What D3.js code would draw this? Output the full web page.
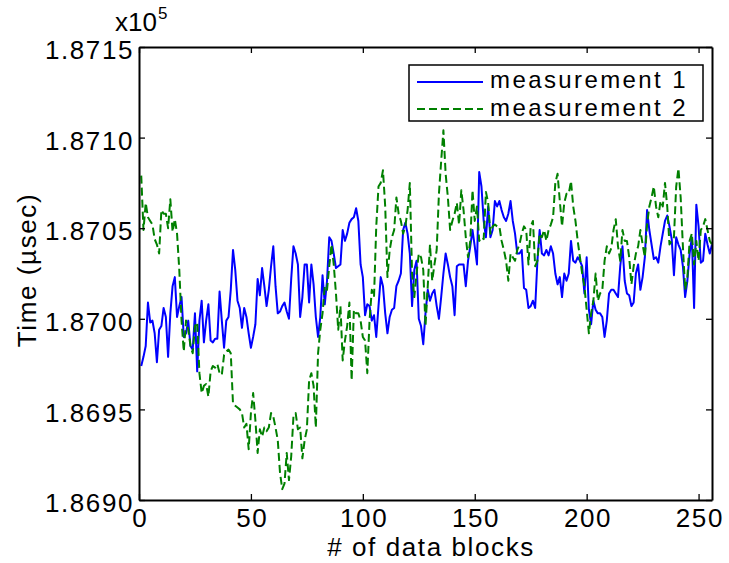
<!DOCTYPE html>
<html><head><meta charset="utf-8">
<script src="https://cdn.jsdelivr.net/npm/d3@7"></script>
<style>
body{margin:0;background:#fff}
svg text{font-family:"Liberation Sans",Arial,Helvetica,sans-serif;fill:#000}
</style></head><body>
<svg id="chart" width="729" height="563"></svg>
<script>
// block index 1..256, time in microseconds
const measurement1 = [
186974,186979,186985,187009,186998,186999,186992,186976,186994,186996,187006,187001,186979,187003,187018,187023,187001,187007,187012,186990,186992,186999,186985,186983,187003,186971,186999,187010,186987,186999,187008,186988,186987,186989,186989,187015,186999,186984,186999,187001,187016,187038,
187027,187010,187006,186995,187006,187001,186992,186984,186990,186997,187022,187013,187028,187018,187007,187016,187029,187040,187018,187003,187004,187007,187009,187004,187000,187022,187040,187036,187030,187001,187012,187030,187030,187009,187030,187019,187001,186990,187001,187024,187008,187021,
187045,187043,187036,187028,187029,187030,187049,187043,187047,187053,187055,187056,187061,187054,187030,187023,187002,187008,187007,186999,187002,186990,187007,187023,187018,187003,186992,187001,187005,187006,187018,187021,187025,187049,187053,187047,187036,187007,187027,187032,187000,186996,
186986,187003,187016,187010,187014,187016,187007,187000,187012,187025,187036,187030,187023,187018,187002,187029,187030,187030,187030,187018,187032,187040,187049,187040,187030,187081,187073,187054,187045,187062,187045,187049,187065,187062,187065,187060,187056,187054,187058,187065,187054,187047,
187036,187036,187038,187017,187016,187006,187007,187010,187006,187032,187049,187036,187035,187038,187035,187040,187036,187025,187019,187023,187012,187025,187021,187025,187043,187032,187031,187034,187032,187029,187014,187034,187005,186997,187010,187005,187003,187003,187001,186990,186999,187014,
187016,187016,187014,187012,187029,187040,187021,187014,187013,187007,187009,187025,187030,187016,187023,187034,187060,187049,187041,187033,187034,187031,187040,187047,187054,187057,187051,187044,187024,187045,187041,187038,187029,187012,187021,187036,187045,187006,187063,187051,187031,187032,187047,187041,187036,187041
];
const measurement2 = [
187079,187049,187064,187056,187054,187052,187044,187041,187036,187060,187058,187058,187050,187066,187048,187055,187047,187027,186999,186982,186999,186994,186985,186981,186996,186998,186970,186959,186963,186964,186957,186971,186974,186973,186975,186970,186969,186980,186982,186983,186981,186953,
186952,186951,186950,186948,186940,186942,186928,186948,186959,186944,186926,186939,186935,186940,186938,186940,186948,186946,186940,186933,186915,186906,186909,186926,186911,186924,186946,186948,186939,186940,186923,186933,186939,186966,186970,186963,186940,186981,186994,187003,187018,187016,
187029,187041,187030,187014,186994,187007,186977,186988,186996,187009,186966,187005,187003,187003,186999,186990,186988,186970,186999,187016,187012,187051,187073,187075,187082,187062,187023,187038,187045,187049,187067,187058,187054,187047,187051,187060,187075,187025,187012,187025,187036,187034,
187027,186996,187018,187041,187021,187030,187038,187069,187087,187104,187080,187067,187049,187054,187058,187064,187052,187071,187060,187045,187034,187043,187071,187054,187062,187043,187045,187044,187070,187064,187047,187051,187052,187051,187051,187043,187038,187032,187021,187036,187034,187032,
187038,187041,187047,187051,187049,187030,187051,187054,187029,187032,187047,187045,187049,187043,187049,187052,187056,187075,187080,187065,187051,187064,187069,187069,187076,187062,187054,187043,187034,187025,187018,187005,186992,187003,187010,187025,187010,187014,187016,187032,187040,187036,
187039,187049,187055,187040,187032,187049,187043,187043,187034,187019,187029,187036,187040,187049,187041,187034,187052,187062,187067,187073,187062,187056,187065,187062,187075,187062,187041,187043,187045,187073,187083,187067,187040,187016,187023,187043,187047,187030,187043,187032,187049,187051,187055,187049,187043,187041
];
const blocks = measurement1.map((_, i) => i + 1);
const seriesNames = ["measurement 1", "measurement 2"];
const seriesColors = ["#0000ff", "#008000"];
const xTicks = [0, 50, 100, 150, 200, 250];
const yTicks = [186900, 186950, 187000, 187050, 187100, 187150];
const xDomain = [0, 256];
const yDomain = [186900, 187150];
const exponentLabel = "x10";
const exponent = "5";
const xTitle = "# of data blocks";
const yTitle = "Time (\u00b5sec)";

const FONT = '"Liberation Sans",Arial,Helvetica,sans-serif';
const FS = 26, LS = "1.6px";
const svg = d3.select("#chart");
const L = 139, R = 712, T = 47, B = 500;
const x = d3.scaleLinear().domain(xDomain).range([L, R]);
const y = d3.scaleLinear().domain(yDomain).range([B, T]);

svg.append("rect").attr("x",0).attr("y",0).attr("width",729).attr("height",563).attr("fill","#fff");

const line = d3.line().x((d,i) => x(blocks[i])).y(d => y(d));
svg.append("path").datum(measurement1).attr("d", line)
  .attr("fill","none").attr("stroke",seriesColors[0]).attr("stroke-width",2).attr("stroke-linejoin","round");
svg.append("path").datum(measurement2).attr("d", line)
  .attr("fill","none").attr("stroke",seriesColors[1]).attr("stroke-width",2).attr("stroke-dasharray","8,4").attr("stroke-linejoin","round");

function styleAxis(g){
  g.selectAll(".domain").attr("stroke","#000").attr("stroke-width",2);
  g.selectAll(".tick line").attr("stroke","#000").attr("stroke-width",1.3);
  g.selectAll(".tick text").attr("font-size",FS).attr("fill","#000")
    .attr("font-family",FONT).style("font-family",FONT).style("letter-spacing",LS);
}
const fmt = d => (d/1e5).toFixed(4);
const gB = svg.append("g").attr("transform",`translate(0,${B})`)
  .call(d3.axisBottom(x).tickValues(xTicks).tickSizeInner(-6).tickSizeOuter(0).tickPadding(9));
styleAxis(gB);
gB.selectAll(".tick text").attr("dx","0.8px");
const gT = svg.append("g").attr("transform",`translate(0,${T})`)
  .call(d3.axisTop(x).tickValues(xTicks).tickSizeInner(-6).tickSizeOuter(0).tickFormat(""));
styleAxis(gT);
const gL = svg.append("g").attr("transform",`translate(${L},0)`)
  .call(d3.axisLeft(y).tickValues(yTicks).tickSizeInner(-6).tickSizeOuter(0).tickPadding(5).tickFormat(fmt));
styleAxis(gL);
gL.selectAll(".tick text").attr("dy","0.45em");
const gR = svg.append("g").attr("transform",`translate(${R},0)`)
  .call(d3.axisRight(y).tickValues(yTicks).tickSizeInner(-6).tickSizeOuter(0).tickFormat(""));
styleAxis(gR);

// exponent label
svg.append("text").attr("x",115).attr("y",31).attr("font-size",FS).attr("font-family",FONT).text(exponentLabel);
svg.append("text").attr("x",158).attr("y",19).attr("font-size",17).attr("font-family",FONT).text(exponent);

// axis titles
svg.append("text").attr("x",431).attr("y",556).attr("text-anchor","middle").attr("font-size",FS)
  .attr("font-family",FONT).style("letter-spacing",LS).text(xTitle);
svg.append("text").attr("transform",`translate(36,270) rotate(-90)`).attr("text-anchor","middle")
  .attr("font-size",FS).attr("font-family",FONT).style("letter-spacing",LS).text(yTitle);

// legend
const lg = svg.append("g");
lg.append("rect").attr("x",409).attr("y",65).attr("width",294).attr("height",56)
  .attr("fill","#fff").attr("stroke","#000").attr("stroke-width",1.5);
seriesNames.forEach((name, i) => {
  const yy = 82 + i*27;
  lg.append("line").attr("x1",417).attr("x2",483).attr("y1",yy).attr("y2",yy)
    .attr("stroke",seriesColors[i]).attr("stroke-width",2)
    .attr("stroke-dasharray", i === 1 ? "8,4" : null);
  lg.append("text").attr("x",490).attr("y",i === 0 ? 88 : 115.5).attr("font-size",24).attr("font-family",FONT)
    .style("letter-spacing","2.4px").text(name);
});
</script>
</body></html>
